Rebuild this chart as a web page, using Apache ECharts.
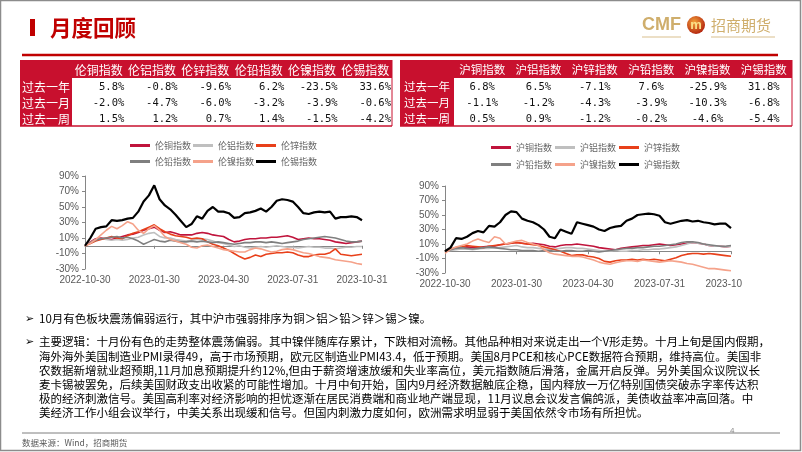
<!DOCTYPE html>
<html><head><meta charset="utf-8">
<script src="https://cdn.jsdelivr.net/npm/echarts@6/dist/echarts.min.js"></script>
<style>html,body{margin:0;padding:0;background:#fff}#c{width:802px;height:452px}</style>
</head><body><div id="c"></div>
<script>
// ---------- data ----------
const dates = ['2022-10-30','2022-11-06','2022-11-13','2022-11-20','2022-11-27','2022-12-04','2022-12-11','2022-12-18','2022-12-25','2023-01-01','2023-01-08','2023-01-15','2023-01-22',
'2023-01-30','2023-02-06','2023-02-13','2023-02-20','2023-02-27','2023-03-06','2023-03-13','2023-03-20','2023-03-27','2023-04-03','2023-04-10','2023-04-17','2023-04-24',
'2023-04-30','2023-05-07','2023-05-14','2023-05-21','2023-05-28','2023-06-04','2023-06-11','2023-06-18','2023-06-25','2023-07-02','2023-07-09','2023-07-16','2023-07-23',
'2023-07-31','2023-08-07','2023-08-14','2023-08-21','2023-08-28','2023-09-04','2023-09-11','2023-09-18','2023-09-25','2023-10-02','2023-10-09','2023-10-16','2023-10-23',
'2023-10-31'];
const xTickLabels = ['2022-10-30','2023-01-30','2023-04-30','2023-07-31','2023-10-31'];
const yTicks = [-30,-10,10,30,50,70,90];

const lmeNames = ['伦铜指数','伦铝指数','伦锌指数','伦铅指数','伦镍指数','伦锡指数'];
const shfeNames = ['沪铜指数','沪铝指数','沪锌指数','沪铅指数','沪镍指数','沪锡指数'];
const rowLabels = ['过去一年','过去一月','过去一周'];

const lmeYear  = [5.8,-0.8,-9.6,6.2,-23.5,33.6];
const lmeMonth = [-2.0,-4.7,-6.0,-3.2,-3.9,-0.6];
const lmeWeek  = [1.5,1.2,0.7,1.4,-1.5,-4.2];
const shfeYear  = [6.8,6.5,-7.1,7.6,-25.9,31.8];
const shfeMonth = [-1.1,-1.2,-4.3,-3.9,-10.3,-6.8];
const shfeWeek  = [0.5,0.9,-1.2,-0.2,-4.6,-5.4];

const lmeCopper = [0,5,9,10,9,8,10,12,14,15,17,20,22,24,20,17,18,16,14,14,14,16,17,16,14,13,12,8,5,6,8,9,9,10,10,11,11,12,13,11,8,9,10,9,9,8,7,5,4,3,4,5,6];
const lmeAl     = [0,4,8,9,8,7,8,7,8,10,11,14,16,17,12,10,10,8,7,6,7,8,9,8,6,4,3,1,-1,0,-2,-3,-2,-1,-2,-1,0,-1,-2,-2,-3,-2,-1,-2,-2,-3,-3,-4,-3,-2,-2,-1,-1];
const lmeZn     = [0,3,6,8,10,12,10,9,13,16,18,21,24,27,22,18,15,13,12,11,9,10,9,5,2,0,-3,-6,-10,-14,-17,-15,-12,-14,-11,-10,-9,-9,-8,-9,-12,-14,-14,-12,-11,-11,-9,-4,-11,-12,-13,-12,-11];
const lmePb     = [0,4,7,9,10,11,12,10,11,9,6,2,5,8,6,5,7,6,5,5,6,5,6,5,4,5,4,3,2,3,4,4,5,5,4,5,4,3,4,5,6,8,9,10,11,12,11,10,8,6,5,5,6];
const lmeNi     = [0,3,8,14,20,25,22,26,31,28,20,16,22,26,20,12,8,6,4,2,-2,-3,0,1,-1,-3,-5,-6,-7,-8,-8,-5,-3,-4,-6,-8,-7,-5,-4,-5,-7,-9,-10,-12,-14,-15,-16,-18,-19,-20,-21,-23,-24];
const lmeTin    = [0,10,22,24,25,33,32,33,35,36,44,57,65,78,60,52,47,40,32,24,28,38,35,45,50,44,44,42,36,37,42,43,45,48,44,50,58,60,59,57,50,42,41,43,44,43,44,35,37,37,38,37,33];

const shfeCu  = [0,2,4,5,6,5,5,6,7,7,9,10,11,12,11,10,11,10,9,7,6,8,9,9,10,9,8,7,5,4,3,2,4,5,6,7,8,8,9,10,9,8,9,10,11,12,11,10,8,7,7,6,7];
const shfeAl  = [0,1,2,3,3,2,3,4,4,5,5,6,7,8,6,5,5,4,3,3,3,4,5,5,4,4,3,2,1,0,0,1,0,0,1,1,2,2,3,3,4,5,6,8,10,12,11,10,8,7,7,6,7];
const shfeZn  = [0,3,5,6,8,7,6,5,7,8,9,10,11,12,11,10,9,8,6,4,2,0,-3,-6,-5,-5,-7,-8,-10,-14,-15,-13,-12,-12,-11,-12,-11,-12,-11,-12,-13,-11,-9,-6,-4,-3,-3,-4,-3,-4,-5,-6,-7];
const shfePb  = [0,2,4,5,4,3,4,5,6,5,4,3,2,2,1,1,1,0,1,1,0,0,1,1,0,0,1,0,-1,0,1,2,3,4,4,5,5,6,7,7,8,9,10,12,13,13,12,10,9,8,7,7,8];
const shfeNi  = [-3,3,6,8,10,14,17,14,12,20,18,10,12,14,15,12,10,8,2,-2,-4,-5,-6,-7,-7,-8,-10,-12,-15,-17,-18,-16,-14,-13,-13,-14,-12,-13,-14,-15,-14,-13,-14,-15,-17,-18,-20,-22,-24,-24,-25,-26,-27];
const shfeTin = [0,5,18,17,20,25,28,26,35,34,40,50,55,54,45,42,40,36,30,20,18,30,27,24,40,38,36,34,30,28,32,34,35,42,45,50,51,52,51,49,40,38,40,42,43,41,42,40,39,37,38,38,32];

const textLine1 = '10月有色板块震荡偏弱运行，其中沪市强弱排序为铜＞铝＞铅＞锌＞锡＞镍。';
const paraLines = [
 '主要逻辑：十月份有色的走势整体震荡偏弱。其中镍伴随库存累计，下跌相对流畅。其他品种相对来说走出一个V形走势。十月上旬是国内假期，',
 '海外海外美国制造业PMI录得49，高于市场预期，欧元区制造业PMI43.4，低于预期。美国8月PCE和核心PCE数据符合预期，维持高位。美国非',
 '农数据新增就业超预期,11月加息预期提升约12%,但由于薪资增速放缓和失业率高位，美元指数随后滑落，金属开启反弹。另外美国众议院议长',
 '麦卡锡被罢免，后续美国财政支出收紧的可能性增加。十月中旬开始，国内9月经济数据触底企稳，国内释放一万亿特别国债突破赤字率传达积',
 '极的经济刺激信号。美国高利率对经济影响的担忧逐渐在居民消费端和商业地产端显现，11月议息会议发言偏鸽派，美债收益率冲高回落。中',
 '美经济工作小组会议举行，中美关系出现缓和信号。但国内刺激力度如何，欧洲需求明显弱于美国依然令市场有所担忧。'
];

// ---------- styles ----------
const colors = ['#C0143C','#BFBFBF','#E8401A','#7F7F7F','#F5A28A','#000000'];
const RED = '#C00000';
const CJK = '"Noto Sans CJK SC", sans-serif';
const SANS = '"Liberation Sans", Arial, sans-serif';
const MONO = '"DejaVu Sans Mono", monospace';

const chart = echarts.init(document.getElementById('c'), null, {renderer:'canvas'});

function txt(x, y, s, opt) {
  opt = opt || {};
  return {type:'text', z: opt.z || 10, silent:true, style:{
    x:x, y:y, text:s, fill:opt.fill||'#000',
    fontSize: opt.fontSize||12, fontFamily: opt.fontFamily||CJK, fontWeight: opt.fontWeight||'normal',
    textAlign: opt.align||'left', align: opt.align||'left',
    textVerticalAlign:'middle', verticalAlign:'middle'}};
}
function rect(x,y,w,h,fill,opt){ opt=opt||{}; return {type:'rect', z:opt.z||5, silent:true, shape:{x:x,y:y,width:w,height:h}, style:{fill:fill}}; }
function line(x1,y1,x2,y2,stroke,w){ return {type:'line', z:6, silent:true, shape:{x1:x1,y1:y1,x2:x2,y2:y2}, style:{stroke:stroke, lineWidth:w}}; }
const fmt = v => v.toFixed(1) + '%';

const graphics = [];
// slide border
graphics.push({type:'rect', z:1, silent:true, shape:{x:0.5,y:0.5,width:800,height:450}, style:{fill:'none', stroke:'#8c8c8c', lineWidth:1.5}});
// title
graphics.push(rect(30,19,5,17,RED));
graphics.push(txt(50,28,'月度回顾',{fill:RED, fontSize:21.5, fontWeight:'bold'}));
graphics.push(line(22,55,778,55,RED,2.5));
// logo
graphics.push(txt(642,25,'CMF',{fill:'#CFAE6C', fontSize:18, fontWeight:'bold', fontFamily:SANS}));
graphics.push(line(642,37,681,37,'#D9C08E',1.2));
graphics.push({type:'circle', z:8, silent:true, shape:{cx:696,cy:25,r:9}, style:{fill:new echarts.graphic.RadialGradient(0.4,0.35,0.7,[{offset:0,color:'#F4A23A'},{offset:1,color:'#B01E0C'}])}});
graphics.push(txt(696,25,'m',{fill:'#FBE08A', fontSize:13, fontWeight:'bold', fontFamily:SANS, align:'center', z:9}));
graphics.push(txt(711,25,'招商期货',{fill:'#CFAE6C', fontSize:15}));
graphics.push(line(711,37,775,37,'#D9C08E',1.2));

// tables
function buildTable(x0, labelW, right, names, rowsVals, opts) {
  const colW = (right - x0 - labelW) / names.length;
  const top = 60, headH = 18, rowH = 16;
  const bottom = top + headH + rowH*3;
  graphics.push(rect(x0, top, right-x0, headH, '#C8102E'));
  graphics.push(rect(x0, top, labelW, bottom-top, '#C8102E'));
  graphics.push(line(x0, bottom, right, bottom, '#C8102E', 1.5));
  graphics.push(line(right, top, right, bottom, '#C8102E', 1));
  names.forEach((n,i) => {
    const cx = x0 + labelW + colW*(i+0.5);
    graphics.push(txt(cx, top + headH/2 + 1, n, {fill:'#fff', fontSize:opts.headSize, align:'center', z:12}));
  });
  rowLabels.forEach((r,j) => {
    const cy = top + headH + rowH*(j+0.5) + 1;
    graphics.push(txt(x0 + labelW/2, cy, r, {fill:'#fff', fontSize:opts.labelSize, align:'center', z:12}));
    rowsVals[j].forEach((v,i) => {
      if (opts.valAlign === 'right') {
        const rx = x0 + labelW + colW*(i+1) - 1;
        graphics.push(txt(rx, cy, fmt(v), {fontSize:10.5, fontFamily:MONO, align:'right', z:12, fill:'#111'}));
      } else {
        const cx = x0 + labelW + colW*(i+0.5);
        graphics.push(txt(cx, cy, fmt(v), {fontSize:10.5, fontFamily:MONO, align:'center', z:12, fill:'#111'}));
      }
    });
  });
}
buildTable(20, 52, 392, lmeNames, [lmeYear, lmeMonth, lmeWeek], {headSize:12, labelSize:12, valAlign:'right'});
buildTable(400, 54, 792, shfeNames, [shfeYear, shfeMonth, shfeWeek], {headSize:11.5, labelSize:11.5, valAlign:'center'});

// cover clipped label of right chart
graphics.push({type:'rect', z:50, silent:true, shape:{x:742,y:277,width:30,height:15}, style:{fill:'#fff'}});

// text section
graphics.push(txt(25,319,'➢',{fontSize:11, fontFamily:'"DejaVu Sans", sans-serif'}));
graphics.push(txt(39,319,textLine1,{fontSize:11.5}));
graphics.push(txt(25,342,'➢',{fontSize:11, fontFamily:'"DejaVu Sans", sans-serif'}));
paraLines.forEach((s,i) => graphics.push(txt(39, 342 + i*14.2, s, {fontSize:11.5})));
graphics.push(line(22,433,780,433,'#7F7F7F',1));
graphics.push(txt(22,443,'数据来源：Wind，招商期货',{fontSize:8.5, fill:'#595959'}));
graphics.push(txt(730,431,'4',{fontSize:8, fill:'#8c8c8c', fontFamily:SANS}));

// ---------- charts ----------
const labelInterval = (idx, val) => xTickLabels.indexOf(val) >= 0;
function xAxes(gi) {
  return [
    {type:'category', gridIndex:gi, data:dates, boundaryGap:false, position:'bottom',
     axisLine:{show:false, onZero:false}, axisTick:{show:false}, splitLine:{show:false},
     axisLabel:{interval:labelInterval, fontSize:10, color:'#595959', fontFamily:SANS, margin:6, showMaxLabel:true, showMinLabel:true, hideOverlap:false}},
    {type:'category', gridIndex:gi, data:dates, boundaryGap:false, position:'bottom',
     axisLine:{show:true, onZero:true, lineStyle:{color:'#868686', width:1}},
     axisTick:{show:true, interval:labelInterval, length:3, lineStyle:{color:'#868686'}},
     axisLabel:{show:false}, splitLine:{show:false}}
  ];
}
function yAxis(gi) {
  return {type:'value', gridIndex:gi, min:-30, max:90,
    axisLine:{show:true, lineStyle:{color:'#868686'}},
    axisTick:{show:true, length:3, customValues:yTicks, lineStyle:{color:'#868686'}},
    axisLabel:{customValues:yTicks, formatter: v => v + '%', fontSize:10, color:'#595959', fontFamily:SANS, margin:6},
    splitLine:{show:false}};
}
function mkSeries(names, arrs, xi, yi) {
  return names.map((n,i) => ({
    name:n, type:'line', xAxisIndex:xi, yAxisIndex:yi, data:arrs[i], showSymbol:false, symbol:'none',
    lineStyle:{color:colors[i], width: i===5 ? 2.2 : 1.6}, itemStyle:{color:colors[i]},
    animation:false, z: 2 + i
  }));
}
function legends(names, left, top1, top2, gap) {
  const base = {icon:'rect', itemWidth:20, itemHeight:3, itemGap:gap, orient:'horizontal', selectedMode:false,
    textStyle:{fontSize:9, color:'#666', fontFamily:CJK}};
  return [
    Object.assign({}, base, {data:names.slice(0,3), left:left, top:top1}),
    Object.assign({}, base, {data:names.slice(3,6), left:left, top:top2})
  ];
}

const option = {
  animation:false,
  backgroundColor:'#fff',
  grid:[
    {left:85, top:176, width:277, height:93, containLabel:false},
    {left:445, top:186, width:286, height:87, containLabel:false}
  ],
  xAxis: xAxes(0).concat(xAxes(1)),
  yAxis: [yAxis(0), yAxis(1)],
  legend: legends(lmeNames, 125, 136, 152, 2).concat(legends(shfeNames, 486, 138, 155, 3)),
  series: mkSeries(lmeNames, [lmeCopper, lmeAl, lmeZn, lmePb, lmeNi, lmeTin], 0, 0)
          .concat(mkSeries(shfeNames, [shfeCu, shfeAl, shfeZn, shfePb, shfeNi, shfeTin], 2, 1)),
  graphic: graphics
};
chart.setOption(option);
</script>
</body></html>
